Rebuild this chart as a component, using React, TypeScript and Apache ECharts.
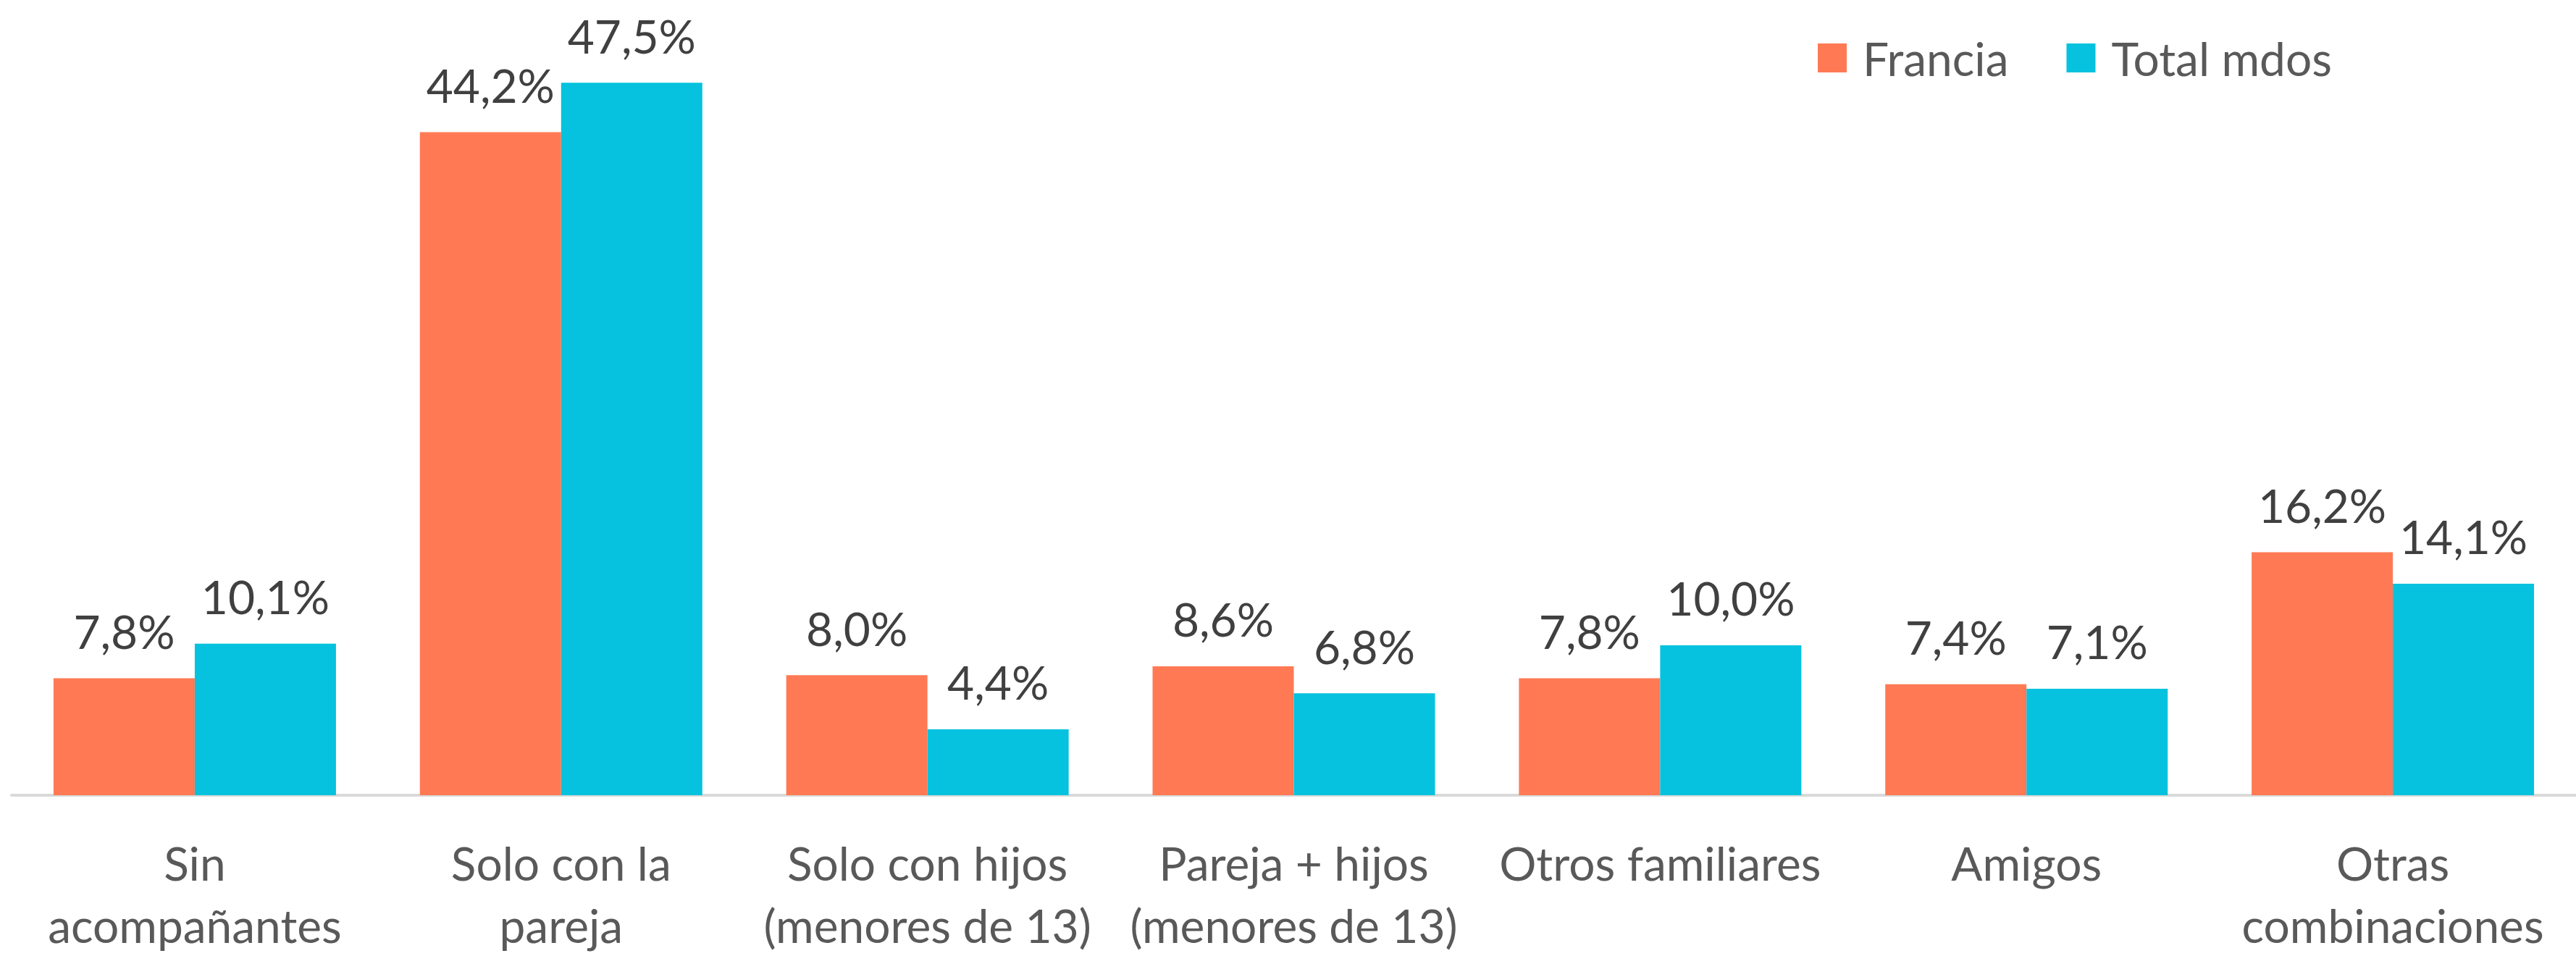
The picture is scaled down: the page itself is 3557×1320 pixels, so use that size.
import React, { useEffect, useRef } from "react";
import * as echarts from "echarts";

const categories = [
  "Sin\nacompañantes",
  "Solo con la\npareja",
  "Solo con hijos\n(menores de 13)",
  "Pareja + hijos\n(menores de 13)",
  "Otros familiares",
  "Amigos",
  "Otras\ncombinaciones",
];
const francia = [7.8, 44.2, 8.0, 8.6, 7.8, 7.4, 16.2];
const totalMdos = [10.1, 47.5, 4.4, 6.8, 10.0, 7.1, 14.1];
const seriesNames = ["Francia", "Total mdos"];

const FONT = "Lato, 'Open Sans', sans-serif";
const fmt = (v: number) => v.toFixed(1).replace(".", ",") + "%";

export default function App() {
  const ref = useRef<HTMLDivElement>(null);
  useEffect(() => {
    if (!ref.current) return;
    const chart = echarts.init(ref.current, undefined, { renderer: "svg" });
    const label = {
      show: true,
      position: "top" as const,
      distance: 33,
      fontFamily: FONT,
      fontSize: 64,
      color: "#404040",
      formatter: (p: any) => fmt(p.value),
    };
    chart.setOption({
      animation: false,
      backgroundColor: "#ffffff",
      textStyle: { fontFamily: FONT },
      legend: {
        left: 2505,
        top: 43,
        itemWidth: 40,
        itemHeight: 40,
        itemGap: 80,
        icon: "rect",
        textStyle: {
          fontFamily: FONT,
          fontSize: 64,
          color: "#595959",
          padding: [0, 0, 0, 17],
        },
        data: seriesNames,
      },
      grid: { left: 16, right: -8, top: 62.5, bottom: 220, containLabel: false },
      xAxis: {
        type: "category",
        data: categories,
        axisTick: { show: false },
        axisLine: { lineStyle: { color: "#d9d9d9", width: 4 } },
        axisLabel: {
          interval: 0,
          fontFamily: FONT,
          fontSize: 64,
          lineHeight: 86,
          color: "#595959",
          margin: 50,
        },
      },
      yAxis: {
        type: "value",
        min: 0,
        max: 50,
        show: false,
        splitLine: { show: false },
      },
      series: [
        {
          name: seriesNames[0],
          type: "bar",
          data: francia,
          barWidth: 195,
          barGap: "0%",
          itemStyle: { color: "#FF7A54" },
          label,
        },
        {
          name: seriesNames[1],
          type: "bar",
          data: totalMdos,
          barWidth: 195,
          barGap: "0%",
          itemStyle: { color: "#06C2DE" },
          label,
        },
      ],
    });
    return () => chart.dispose();
  }, []);
  return (
    <div
      ref={ref}
      style={{ position: "fixed", left: 0, top: 0, width: 3557, height: 1320 }}
    />
  );
}
